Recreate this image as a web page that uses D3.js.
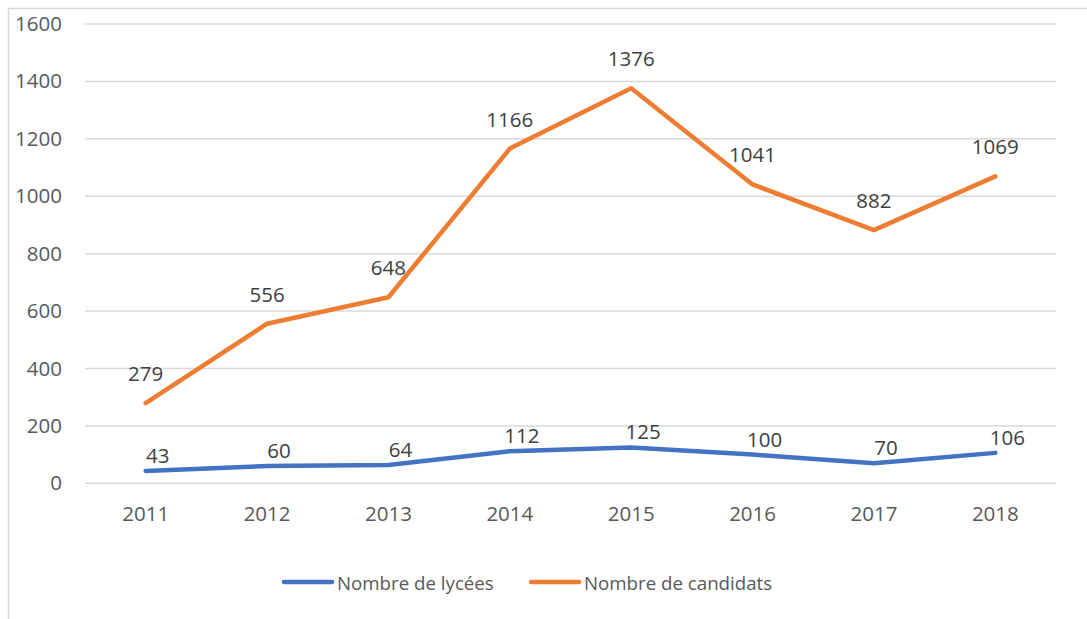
<!DOCTYPE html>
<html><head><meta charset="utf-8">
<script src="https://cdn.jsdelivr.net/npm/d3@7/dist/d3.min.js"></script>
<style>
html,body{margin:0;padding:0;background:#fff;}
svg{display:block;font-family:"Open Sans","Noto Sans",sans-serif;}
</style></head>
<body><svg id="chart" width="1087" height="619"></svg>
<script>
const years = ["2011","2012","2013","2014","2015","2016","2017","2018"];
const lycees = [43, 60, 64, 112, 125, 100, 70, 106];
const candidats = [279, 556, 648, 1166, 1376, 1041, 882, 1069];
const yTicks = [0, 200, 400, 600, 800, 1000, 1200, 1400, 1600];
const seriesNames = ["Nombre de lycées", "Nombre de candidats"];

const svg = d3.select("#chart");
const m = {left: 85, right: 1056, top: 24, bottom: 483.3};
const FS = 20.5;

// chart frame
svg.append("rect").attr("x", 8.5).attr("y", 8.5).attr("width", 1200).attr("height", 1200)
  .attr("fill", "none").attr("stroke", "#D9D9D9").attr("stroke-width", 1.5);

const x = d3.scaleBand().domain(years).range([m.left, m.right]);
const y = d3.scaleLinear().domain([0, 1600]).range([m.bottom, m.top]);

// gridlines
svg.append("g").selectAll("line").data(yTicks).join("line")
  .attr("x1", m.left).attr("x2", m.right)
  .attr("y1", d => y(d)).attr("y2", d => y(d))
  .attr("stroke", "#D9D9D9").attr("stroke-width", 1.5);

// y axis labels
const yAxis = d3.axisLeft(y).tickValues(yTicks).tickFormat(d3.format("d")).tickSize(0).tickPadding(0);
const gy = svg.append("g").attr("transform", `translate(62,0)`).call(yAxis);
gy.select(".domain").remove();
gy.selectAll("text").attr("font-size", FS).attr("fill", "#595959")
  .attr("font-family", "'Open Sans','Noto Sans',sans-serif");

// x axis labels
const xAxis = d3.axisBottom(x).tickSize(0).tickPadding(0);
const gx = svg.append("g").attr("transform", `translate(0,${m.bottom + 23})`).call(xAxis);
gx.select(".domain").remove();
gx.selectAll("text").attr("font-size", FS).attr("fill", "#595959")
  .attr("font-family", "'Open Sans','Noto Sans',sans-serif");

const cx = d => x(d) + x.bandwidth() / 2;
const line = d3.line().x((d, i) => cx(years[i])).y(d => y(d));

const series = [
  {name: seriesNames[0], values: lycees, color: "#4472C4", dx: 12, dy: -16},
  {name: seriesNames[1], values: candidats, color: "#ED7D31", dx: 0, dy: -30}
];

series.forEach(s => {
  svg.append("path").datum(s.values).attr("d", line)
    .attr("fill", "none").attr("stroke", s.color).attr("stroke-width", 4.5)
    .attr("stroke-linecap", "round").attr("stroke-linejoin", "round");
  svg.append("g").selectAll("text").data(s.values).join("text")
    .attr("x", (d, i) => cx(years[i]) + s.dx)
    .attr("y", d => y(d) + s.dy)
    .attr("text-anchor", "middle").attr("dominant-baseline", "central")
    .attr("font-size", FS).attr("fill", "#404040")
    .text(d => d);
});

// legend
const legend = [
  {name: seriesNames[0], color: "#4472C4", x: 284},
  {name: seriesNames[1], color: "#ED7D31", x: 531}
];
const lg = svg.append("g");
legend.forEach(l => {
  lg.append("line").attr("x1", l.x).attr("x2", l.x + 48).attr("y1", 582).attr("y2", 582)
    .attr("stroke", l.color).attr("stroke-width", 4.5).attr("stroke-linecap", "round");
  lg.append("text").attr("x", l.x + 53).attr("y", 582).attr("dominant-baseline", "central")
    .attr("font-size", 18.7).attr("fill", "#595959").text(l.name);
});
</script></body></html>
